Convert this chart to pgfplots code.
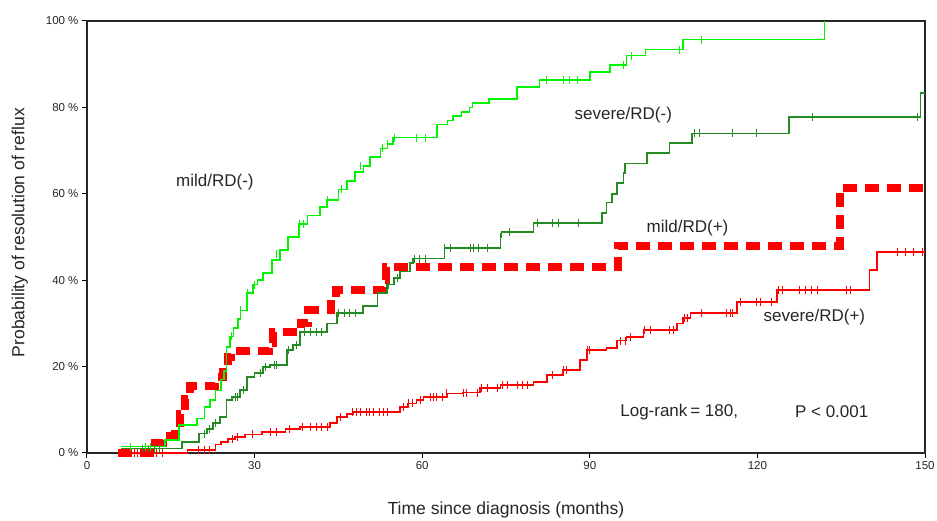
\documentclass[border=0pt]{standalone}
\usepackage{fontspec}
\setmainfont{Liberation Sans}
\usepackage{pgfplots}
\pgfplotsset{compat=1.18}
\definecolor{lgreen}{RGB}{0,245,0}
\definecolor{dgreen}{RGB}{34,140,34}
\definecolor{kred}{RGB}{255,0,0}
\begin{document}
\begin{tikzpicture}
\useasboundingbox (-87pt,-68pt) rectangle (850pt,453pt);
\begin{axis}[
  scale only axis, width=838pt, height=432pt,
  xmin=0, xmax=150, ymin=0, ymax=100,
  xtick={0,30,60,90,120,150}, ytick={0,20,40,60,80,100},
  yticklabels={0 \%,20 \%,40 \%,60 \%,80 \%,100 \%},
  xtick pos=bottom, ytick pos=left,
  tick align=outside, major tick length=5pt,
  axis line style={line width=1.1pt, black!85},
  tick style={black, line width=1pt},
  ticklabel style={font=\fontsize{11.5}{13}\selectfont, text=black!85},
  /pgf/number format/assume math mode=true,
  xlabel={Time since diagnosis (months)},
  ylabel={Probability of resolution of reflux},
  every axis x label/.style={at={(axis description cs:0.5,-0.132)}, anchor=center, font=\fontsize{17.5}{20}\selectfont, text=black!85},
  every axis y label/.style={at={(axis description cs:-0.08,0.51)}, anchor=center, rotate=90, font=\fontsize{17.5}{20}\selectfont, text=black!85},
  clip=false,
]
% mild/RD(+) dashed
\addplot[const plot, kred, line width=8pt, dash pattern=on 14pt off 8pt] coordinates {
(5.5,0) (12.2,2.3) (13.6,4) (15.7,6) (16.6,9) (17.5,12.5) (18.4,15.5) (23,17.6) (24.3,20) (25.2,22.2) (25.8,23.5) (32.5,25.5) (33.3,28) (38.3,30) (39.6,33) (43.7,35.4) (44.5,37.7) (53.2,40) (53.5,43) (95,48) (134.7,61.3) (150,61.3)};
\addplot[only marks, mark=|, mark size=4pt, kred, mark options={line width=0.9pt}] coordinates {
(7,0) (8.5,0) (10,0) (102.9,48) (111,48)};
% severe/RD(+)
\addplot[const plot, kred, line width=1.6pt] coordinates {
(6,0) (18,0.7) (23,2) (24,2.5) (25.2,3.2) (26.5,3.7) (28.3,4.3) (31.3,4.9) (35.5,5.5) (38.1,6) (43.5,7) (44.7,8.3) (46.5,9) (47.6,9.5) (56,10.6) (57.5,11.5) (59,12.3) (60.2,13) (64.4,13.8) (67.3,14) (70.3,15) (74,15.7) (79.9,16.4) (82.3,18) (85.2,19.2) (88.2,21.5) (89.5,23.8) (93,24.3) (94.9,26) (96.6,26.8) (99.6,28.5) (105.6,30) (106.7,31.2) (108,32.4) (116.3,35) (123.5,37.7) (140.1,42.4) (141.4,46.5) (150,46.5)};
\addplot[only marks, mark=|, mark size=4pt, kred, mark options={line width=0.9pt}] coordinates {
(7,0) (8,0) (9,0) (10,0) (12.5,0) (13.5,0) (20,0.7) (21,0.7) (22,0.7) (26,3.2) (27,3.7) (29.7,4.3) (32.8,4.9) (34,4.9) (36.3,5.5) (38.5,6) (40,6) (41,6) (42,6) (43,6) (45.3,8.3) (47.6,9.5) (48.3,9.5) (48.9,9.5) (50,9.5) (50.6,9.5) (51.2,9.5) (52.4,9.5) (53,9.5) (53.7,9.5) (56.6,10.6) (57.5,11.5) (58.3,11.5) (59.6,12.3) (61.4,13) (62,13) (62.6,13) (63.7,13) (64.4,13.8) (67.3,14) (68,14) (69.8,14) (70.6,15) (71.6,15) (73.4,15) (74.3,15.7) (75.2,15.7) (77,15.7) (77.9,15.7) (78.8,15.7) (83.4,18) (85.2,19.2) (85.9,19.2) (89.5,23.8) (90,23.8) (95.4,26) (96.3,26) (97.2,26.8) (99.8,28.5) (100.8,28.5) (104.3,28.5) (104.9,28.5) (106.9,31.2) (107.4,31.2) (110,32.4) (114.5,32.4) (115.2,32.4) (115.6,32.4) (116.9,35) (119.9,35) (120.5,35) (122.6,35) (123.7,37.7) (124.4,37.7) (127.6,37.7) (128.6,37.7) (129.6,37.7) (130.7,37.7) (136,37.7) (136.6,37.7) (145,46.5) (146.5,46.5) (148,46.5) (149.6,46.5)};
% severe/RD(-)
\addplot[const plot, dgreen, line width=1.6pt] coordinates {
(6,1) (17,1) (17,2.6) (20,2.6) (20,4.5) (21.5,5.5) (22.5,7) (23.8,8.3) (25,12.3) (26,13) (27.4,14.6) (28.6,17.6) (30,18.5) (31.5,19.9) (32.8,20.4) (35.8,23.8) (36.9,25) (38.1,28) (43,30) (44.7,32.4) (49.4,34) (52,37) (53.7,39) (55,40.5) (56,42) (57.8,44) (58.4,45) (64,47.4) (74,50) (74.2,51.2) (79.9,53.2) (92.2,55.5) (93,58) (94,60) (94.9,62.5) (96,64.8) (96.3,67) (100.2,69.4) (104.3,71.7) (108.3,74) (125.7,77.8) (149.2,83.3) (150,83.3)};
\addplot[only marks, mark=|, mark size=4pt, dgreen, mark options={line width=0.9pt}] coordinates {
(10,1) (11,1) (12,1) (13,1) (21,4.5) (22,5.5) (23,7) (26.5,13) (27,13) (28,14.6) (31,18.5) (32,19.9) (33.5,20.4) (34,20.4) (36,23.8) (37.5,25) (39,28) (40,28) (41,28) (42,28) (45,32.4) (46,32.4) (47,32.4) (48,32.4) (54,39) (55.5,40.5) (58.6,45) (59.5,45) (60.5,45) (64,47.4) (65,47.4) (68.6,47.4) (69.1,47.4) (70,47.4) (71.6,47.4) (74,50) (75.7,51.2) (80.7,53.2) (83.4,53.2) (84.3,53.2) (87.9,53.2) (108.8,74) (109.7,74) (115.6,74) (119.9,74) (129.8,77.8) (148.6,77.8)};
% mild/RD(-)
\addplot[const plot, lgreen, line width=1.6pt] coordinates {
(6,1.5) (14,3) (16.5,6.5) (19.7,8) (21,10.6) (22,12.3) (23,14.5) (24,17) (24.5,19) (25,24.5) (25.6,27) (26.2,29) (27,31) (27.5,33) (28.6,37) (29.7,39) (30.5,40) (31.5,41.6) (33.1,44.7) (34.5,47) (36,50) (38,53) (39.5,55) (41.7,57) (43,58.5) (45,61) (46.5,63) (48,65) (49.5,66.5) (50.7,68.5) (52.5,70.5) (53.8,71.5) (54.8,73) (62,73) (62.6,76) (64.5,77) (65.5,78) (67,79) (68.5,80) (69,81) (72,82) (77,84.7) (81,86.4) (90,88.2) (93.6,89.8) (96.6,92) (100,93.4) (106.7,95.7) (132,100)};
\addplot[only marks, mark=|, mark size=4pt, lgreen, mark options={line width=0.9pt}] coordinates {
(7.7,1.5) (10.4,1.5) (11.3,1.5) (25.8,27) (27.5,33) (28.8,37) (30,39) (34,46) (38,53) (38.7,53) (43,58.5) (45.6,61) (48.9,66.5) (52.8,70.5) (53.7,71.5) (55.1,73) (59,73) (60.5,73) (82.3,86.4) (85.2,86.4) (86.4,86.4) (87.7,86.4) (96,89.8) (97.5,92) (106.1,93.4) (110,95.7)};
% labels
\node[font=\fontsize{17}{20}\selectfont, text=black!85] at (axis cs:22.9,62.7) {mild/RD(-)};
\node[font=\fontsize{17}{20}\selectfont, text=black!85] at (axis cs:96,78.3) {severe/RD(-)};
\node[font=\fontsize{17}{20}\selectfont, text=black!85] at (axis cs:107.5,52.1) {mild/RD(+)};
\node[font=\fontsize{17}{20}\selectfont, text=black!85] at (axis cs:130.2,31.5) {severe/RD(+)};
\node[font=\fontsize{17}{20}\selectfont, text=black!85] at (axis cs:106,9.5) {Log-rank\,= 180,};
\node[font=\fontsize{17}{20}\selectfont, text=black!85] at (axis cs:133.3,9.5) {P < 0.001};
\end{axis}
\end{tikzpicture}
\end{document}
